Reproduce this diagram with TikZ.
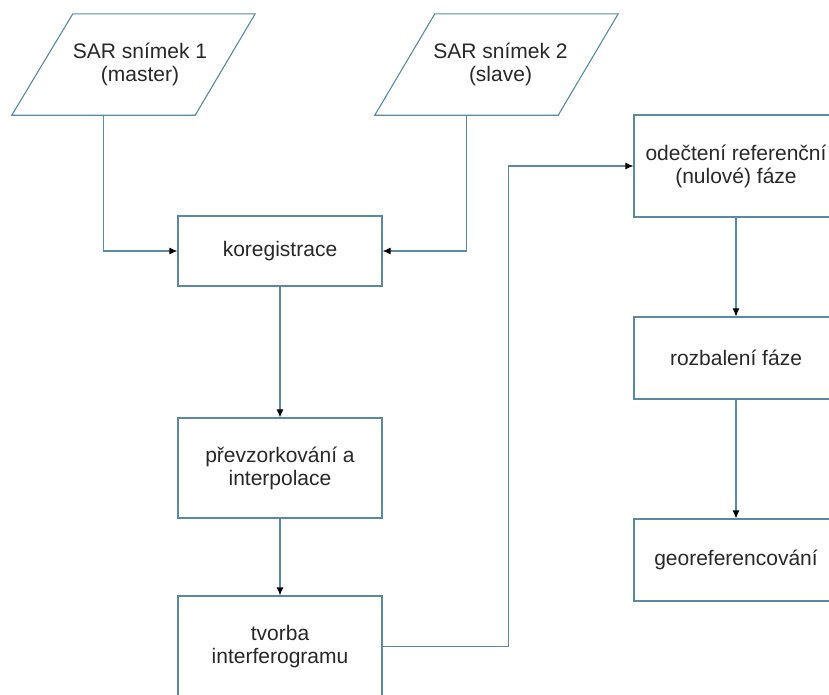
\documentclass[tikz,border=0pt]{standalone}
\usepackage{fontspec}
\setmainfont{Liberation Sans}
\usetikzlibrary{arrows.meta}
\definecolor{linec}{RGB}{88,138,165}
\definecolor{txtc}{RGB}{40,40,40}
\tikzset{
  box/.style={draw=linec, line width=1.1pt, minimum width=204pt, inner sep=0pt, align=center,
              text=txtc, font=\fontsize{21}{23}\selectfont},
  paratext/.style={inner sep=0pt, minimum width=183pt, minimum height=101pt, align=center,
              text=txtc, font=\fontsize{21}{23}\selectfont},
  edge/.style={draw=linec, line width=1.1pt},
  conn/.style={draw=linec, line width=1.1pt, -{Latex[length=8pt,width=7pt,color=black]}}
}
\begin{document}
\begin{tikzpicture}[x=1pt,y=-1pt]
\useasboundingbox[fill=white] (0,0) rectangle (829,694);
% input parallelograms
\node[paratext] (p1) at (140,64.5) {SAR snímek 1\\(master)};
\draw[edge] ([xshift=24.5pt]p1.north west) -- ([xshift=23.5pt]p1.north east)
  -- ([xshift=-36.5pt]p1.south east) -- ([xshift=-36.5pt]p1.south west) -- cycle;
\node[paratext] (p2) at (500.5,64.5) {SAR snímek 2\\(slave)};
\draw[edge] ([xshift=26pt]p2.north west) -- ([xshift=26pt]p2.north east)
  -- ([xshift=-34pt]p2.south east) -- ([xshift=-34pt]p2.south west) -- cycle;
% process boxes
\node[box, minimum height=70pt] (kor) at (280,251) {koregistrace};
\node[box, minimum height=100pt] (prev) at (280,468) {převzorkování a\\interpolace};
\node[box, minimum height=101pt] (tv) at (280,646.5) {tvorba\\interferogramu};
\node[box, minimum height=102pt] (odec) at (736,166) {odečtení referenční\\(nulové) fáze};
\node[box, minimum height=82pt] (rozb) at (736,358) {rozbalení fáze};
\node[box, minimum height=82pt] (geo) at (736,560) {georeferencování};
% connectors
\draw[conn] ([xshift=-36.5pt]p1.south) |- (kor.west);
\draw[conn] ([xshift=-34pt]p2.south) |- (kor.east);
\draw[conn] (kor.south) -- (prev.north);
\draw[conn] (prev.south) -- (tv.north);
\draw[conn] (tv.east) -- ++(126,0) |- (odec.west);
\draw[conn] (odec.south) -- (rozb.north);
\draw[conn] (rozb.south) -- (geo.north);
\end{tikzpicture}
\end{document}
